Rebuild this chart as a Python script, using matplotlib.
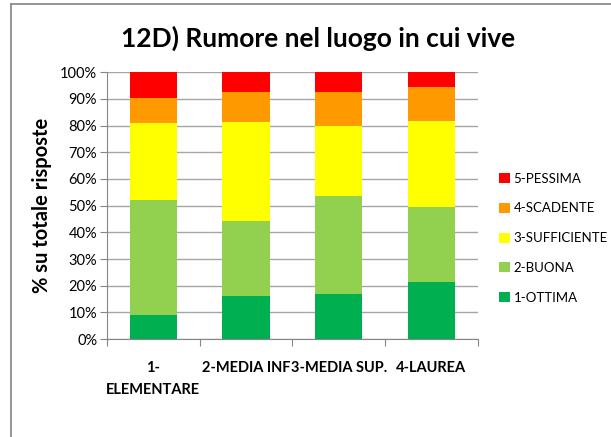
import matplotlib.pyplot as plt
import numpy as np
from matplotlib.lines import Line2D

plt.rcParams['font.family'] = ['Lato', 'DejaVu Sans']

categorie = ['1-\nELEMENTARE', '2-MEDIA INF', '3-MEDIA SUP.', '4-LAUREA']
serie = ['1-OTTIMA', '2-BUONA', '3-SUFFICIENTE', '4-SCADENTE', '5-PESSIMA']
colori = ['#00b050', '#92d050', '#ffff00', '#ff9900', '#ff0000']

# percentuali
ottima = [9.1, 16.2, 16.9, 21.4]
buona = [43.0, 28.0, 36.6, 28.0]
sufficiente = [28.7, 37.0, 26.2, 32.2]
scadente = [9.4, 11.2, 12.7, 13.0]
pessima = [9.8, 7.6, 7.6, 5.4]

valori = [ottima, buona, sufficiente, scadente, pessima]

fig = plt.figure(figsize=(6.11, 4.37), dpi=100)
ax = fig.add_axes([0.175, 0.224, 0.607, 0.611])

x = np.arange(len(categorie))
base = np.zeros(len(categorie))
for nome, v, c in zip(serie, valori, colori):
    ax.bar(x, v, bottom=base, width=0.51, color=c, label=nome, zorder=3)
    base = base + np.array(v)

ax.set_xlim(-0.5, 3.5)
ax.set_ylim(0, 100)
ax.set_yticks(np.arange(0, 101, 10))
ax.set_yticklabels(['%d%%' % t for t in range(0, 101, 10)], fontsize=10.5)
ax.yaxis.grid(True, color='#a6a6a6', linewidth=1, zorder=0)

# etichette categorie, tacche ai bordi
ax.set_xticks(np.arange(-0.5, 4, 1))
ax.set_xticklabels([])
ax.set_xticks(x, minor=True)
ax.set_xticklabels(categorie, minor=True, fontsize=10.5, fontweight='bold',
                   linespacing=1.7)
ax.tick_params(axis='x', which='minor', length=0, pad=16)
ax.tick_params(axis='x', which='major', length=5, color='#868686')
ax.tick_params(axis='y', length=5, color='#868686', pad=2)

for s in ['top', 'right']:
    ax.spines[s].set_visible(False)
for s in ['left', 'bottom']:
    ax.spines[s].set_color('#868686')

ax.set_ylabel('% su totale risposte', fontsize=14.5, fontweight='bold', labelpad=6)
fig.text(0.52, 0.913, '12D) Rumore nel luogo in cui vive', ha='center', va='center',
         fontsize=19, fontweight='bold')

h, l = ax.get_legend_handles_labels()
ax.legend(h[::-1], l[::-1], loc='center left', bbox_to_anchor=(1.025, 0.378),
          frameon=False, fontsize=9.5, handlelength=0.8, handleheight=0.8,
          handletextpad=0.3, labelspacing=1.35)

# bordo del riquadro (aperto a destra e in basso)
x0, y0 = 10.5 / 611, 1 - 4 / 437
fig.lines.append(Line2D([x0, x0], [0, y0], transform=fig.transFigure,
                        color='#8c8c8c', linewidth=1.3))
fig.lines.append(Line2D([x0, 1], [y0, y0], transform=fig.transFigure,
                        color='#8c8c8c', linewidth=1.3))

fig.savefig('out.png', dpi=100)
